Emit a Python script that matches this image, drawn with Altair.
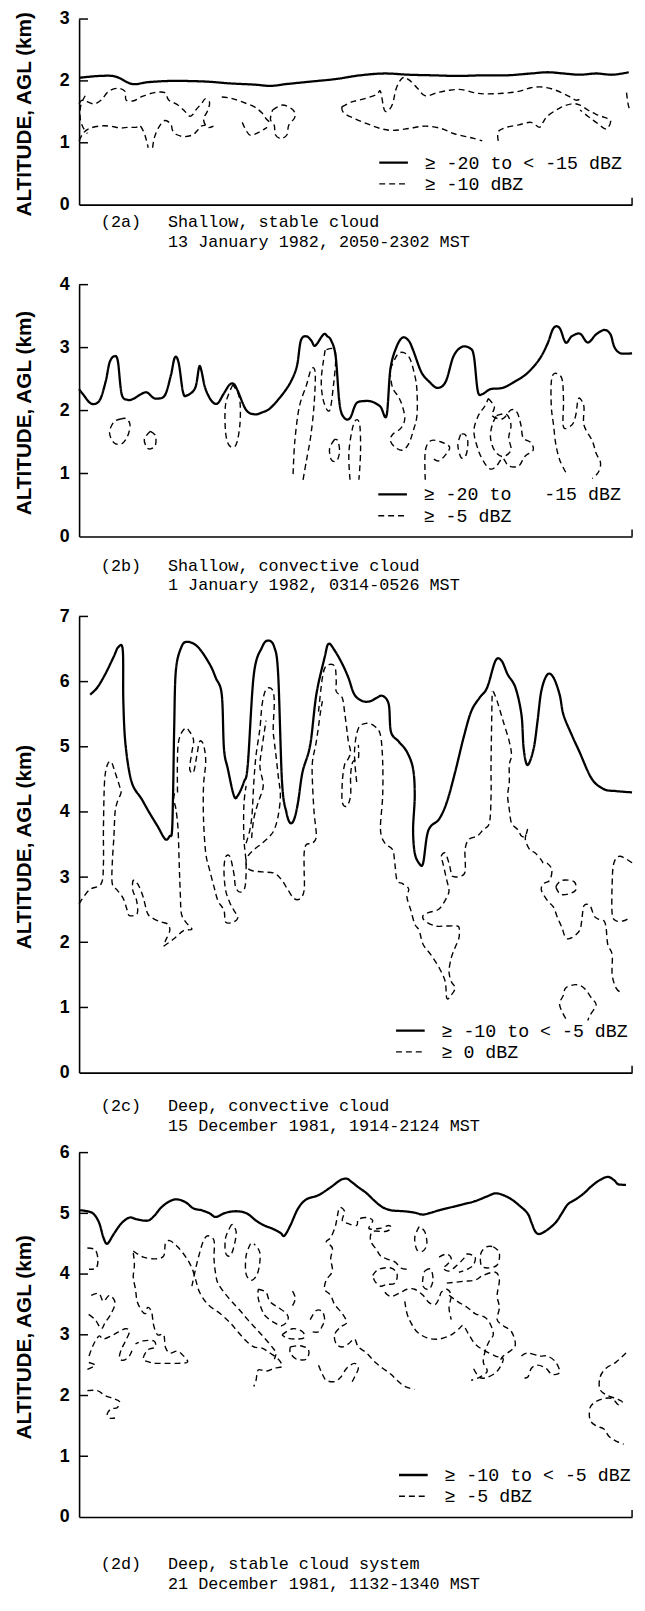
import altair as alt
import pandas as pd

# ---------------- data (x: relative distance 0-100, y: altitude km) ----------------
A_TOP = [(0,2.05),(3.7,2.08),(6.6,2.07),(9.6,1.95),(12.5,1.98),(16.9,2.0),(22.8,1.99),(27.2,1.96),
         (31.7,1.94),(34.6,1.92),(37.6,1.95),(42.0,1.99),(46.4,2.03),(50.8,2.09),(55.2,2.12),(59.6,2.10),
         (64.1,2.09),(68.5,2.08),(72.9,2.09),(77.3,2.09),(81.7,2.12),(84.7,2.14),(87.6,2.12),(90.6,2.10),
         (93.5,2.12),(96.5,2.10),(99.4,2.14)]
A_DASHED = [
    [(1.1,1.76),(0.3,1.6),(0.2,1.4),(0.7,1.25),(1.5,1.15)],
    [(0,1.63),(0.7,1.69),(2.6,1.63),(4.0,1.69),(5.3,1.83),(7.0,1.88),(8.3,1.83),(8.5,1.69),(9.9,1.68),
     (11.4,1.75),(13.6,1.81),(15.5,1.81),(16.2,1.69),(17.7,1.62),(19.1,1.51),(20.0,1.43),(20.6,1.46),
     (21.2,1.54),(22.2,1.64),(22.8,1.71),(23.6,1.65),(23.2,1.51),(22.5,1.38),(23.2,1.25),(24.3,1.27)],
    [(0,1.03),(0.7,1.15),(1.8,1.23),(3.7,1.27),(5.5,1.27),(7.4,1.24),(8.8,1.25),(10.3,1.25),(11.0,1.28),
     (11.8,1.15),(12.2,1.03),(12.5,0.92)],
    [(13.3,0.92),(13.6,1.08),(14.4,1.25),(15.5,1.36),(16.6,1.3),(16.9,1.2),(17.7,1.13),(19.1,1.1),
     (20.6,1.13),(21.4,1.2),(22.1,1.27),(22.8,1.28)],
    [(25.8,1.74),(27.5,1.72),(29.5,1.66),(31.7,1.58),(33.1,1.48),(33.9,1.38),(34.6,1.33)],
    [(29.5,1.33),(30.2,1.2),(31.0,1.12),(32.5,1.17),(34.0,1.25)],
    [(35.0,1.53),(36.8,1.61),(38.7,1.53),(39.0,1.41),(37.9,1.28),(37.6,1.13),(36.5,1.07),(35.5,1.13),
     (35.3,1.28),(34.6,1.38),(35.0,1.53)],
    [(47.5,1.58),(49.3,1.66),(51.5,1.71),(53.8,1.78),(54.5,1.83),(55.2,1.53),(56.0,1.53),(56.7,1.63),
     (57.4,1.89),(58.5,2.05),(59.6,2.02),(61.1,1.89),(62.6,1.76),(64.8,1.81),(67.0,1.85),(69.2,1.86),
     (71.4,1.81),(73.6,1.79),(76.6,1.80),(79.5,1.83),(81.7,1.89),(83.9,1.9),(86.2,1.85),(88.4,1.76),
     (89.8,1.69),(90.6,1.71)],
    [(47.5,1.58),(47.9,1.48),(50.1,1.38),(52.3,1.30),(54.5,1.23),(56.7,1.20),(59.6,1.23),(62.6,1.27),
     (65.5,1.23),(67.7,1.15),(70.0,1.10),(71.4,1.07),(72.9,1.03)],
    [(75.8,1.03),(75.8,1.18),(77.3,1.25),(79.5,1.29),(81.7,1.33),(83.2,1.25),(83.9,1.33),(84.7,1.43),
     (86.9,1.56),(89.1,1.63),(90.6,1.61),(92.0,1.53),(93.5,1.46),(95.0,1.41),(96.1,1.36),(95.7,1.25),
     (95.0,1.23),(93.5,1.33),(92.0,1.43),(90.6,1.53)],
    [(99.0,1.81),(99.4,1.58),(100,1.53)],
]

B_TOP = [(0,2.34),(0.7,2.26),(2.2,2.11),(3.7,2.16),(4.8,2.46),(5.5,2.76),(6.3,2.86),(7.0,2.79),(7.7,2.26),
         (8.8,2.17),(9.9,2.19),(11.0,2.25),(12.2,2.29),(13.3,2.21),(14.0,2.19),(15.5,2.24),(16.6,2.56),
         (17.3,2.84),(18.0,2.76),(18.8,2.29),(19.5,2.24),(21.0,2.36),(21.7,2.69),(22.1,2.64),(22.8,2.36),
         (23.9,2.16),(25.0,2.11),(26.1,2.26),(27.2,2.41),(28.0,2.42),(28.7,2.31),(30.2,2.01),(31.7,1.94),
         (33.1,1.97),(34.6,2.04),(36.8,2.26),(38.3,2.46),(39.4,2.71),(40.1,3.11),(41.1,3.18),(42.0,3.11),
         (42.7,3.03),(44.2,3.21),(44.9,3.18),(45.6,3.11),(46.4,2.86),(47.1,2.11),(47.9,1.89),(49.0,1.88),
         (50.1,2.11),(51.5,2.15),(53.0,2.14),(54.5,2.06),(55.6,1.92),(56.3,2.66),(57.4,3.01),(58.5,3.16),
         (59.6,3.11),(60.4,2.96),(61.9,2.61),(63.3,2.46),(64.8,2.36),(66.3,2.46),(67.7,2.86),(69.2,3.01),
         (70.7,2.99),(71.4,2.86),(72.1,2.31),(72.9,2.26),(74.4,2.34),(76.6,2.36),(78.8,2.46),(81.0,2.59),
         (83.2,2.81),(84.7,3.06),(85.8,3.31),(86.9,3.31),(88.0,3.08),(89.1,3.18),(90.6,3.22),(92.0,3.08),
         (93.5,3.21),(95.0,3.28),(96.1,3.21),(96.8,3.01),(97.9,2.91),(100,2.91)]
B_DASHED = [
    [(7.7,1.87),(6.3,1.82),(5.5,1.65),(6.3,1.49),(7.7,1.47),(8.8,1.6),(9.2,1.78),(8.5,1.87),(7.7,1.87)],
    [(12.9,1.67),(11.8,1.55),(12.2,1.42),(12.9,1.39),(13.8,1.45),(13.8,1.6),(12.9,1.67)],
    [(27.8,2.41),(26.5,2.1),(26.5,1.65),(27.2,1.44),(28.4,1.46),(29.1,1.8),(29.0,2.2),(27.8,2.41)],
    [(38.7,0.99),(39.0,1.5),(39.8,2.05),(41.1,2.4),(42.0,2.66),(42.7,2.6),(42.5,2.1),(41.9,1.6),
     (41.1,1.2),(40.5,0.9)],
    [(44.5,2.96),(43.8,2.5),(44.2,2.15),(45.3,2.0),(46.0,2.4),(46.4,2.8),(46.1,2.98),(44.5,2.96)],
    [(46.2,1.54),(45.3,1.4),(45.6,1.22),(46.6,1.2),(47.1,1.35),(46.8,1.52),(46.2,1.54)],
    [(49.0,0.9),(48.8,1.35),(49.7,1.8),(50.7,1.8),(50.9,1.35),(50.6,0.9)],
    [(56.3,2.66),(57.8,2.91),(59.6,2.86),(60.7,2.56),(61.1,2.31),(61.1,1.92),(60.4,1.67),(59.6,1.47),
     (58.5,1.37),(57.1,1.42),(56.3,1.52),(56.7,1.62),(58.2,1.72),(58.9,1.87),(58.5,2.06),(57.8,2.21),
     (56.7,2.36),(56.3,2.56)],
    [(62.6,0.9),(62.6,1.35),(63.6,1.52),(65.5,1.5),(67.0,1.42),(66.3,1.3),(65.0,1.2),(63.8,1.25)],
    [(69.0,1.62),(68.5,1.45),(69.1,1.25),(70.0,1.3),(70.3,1.5),(69.8,1.62),(69.0,1.62)],
    [(74.0,2.19),(75.1,2.06),(74.7,1.92),(76.6,1.87),(78.1,2.01),(79.2,1.97),(79.9,1.77),(80.3,1.57),
     (81.7,1.49),(82.1,1.37),(80.6,1.27),(79.5,1.12),(77.7,1.12),(76.6,1.24),(75.5,1.12),(74.4,1.07),
     (73.3,1.17),(72.2,1.37),(71.4,1.67),(72.2,1.92),(73.3,2.06),(74.0,2.19)],
    [(75.5,1.92),(77.3,1.94),(78.1,1.77),(77.7,1.57),(78.1,1.37),(76.6,1.27),(75.1,1.37),(74.4,1.57),
     (74.7,1.77),(75.5,1.92)],
    [(88.0,1.02),(86.9,1.22),(86.2,1.47),(85.8,1.77),(85.4,2.06),(85.4,2.46),(86.0,2.59),(87.3,2.51),
     (87.6,2.16),(87.6,1.74),(89.1,1.77),(89.8,1.92),(90.2,2.16),(90.6,2.19),(91.3,2.06),(91.3,1.77),
     (92.8,1.52),(93.5,1.32),(94.3,1.17),(93.9,1.02),(92.8,0.92)],
]

C_TOP = [(2.0,5.80),(3.3,5.91),(4.7,6.11),(6.2,6.37),(7.1,6.53),(7.9,6.48),(8.0,5.70),(8.4,5.03),(9.5,4.46),
         (11.3,4.20),(12.7,3.99),(14.2,3.78),(15.6,3.58),(16.4,3.63),(16.8,3.7),(17.0,4.3),(17.2,5.3),
         (17.5,6.17),(18.5,6.53),(19.6,6.61),(21.5,6.53),(23.6,6.27),(24.7,6.06),(25.8,5.80),(26.2,4.97),
         (26.9,4.66),(28.0,4.25),(28.7,4.25),(29.8,4.46),(30.5,4.72),(31.6,6.11),(33.1,6.53),(34.2,6.63),
         (35.3,6.53),(36.0,6.11),(36.7,4.46),(37.5,3.99),(38.2,3.83),(38.9,3.89),(39.6,4.15),(40.4,4.61),
         (41.8,5.03),(42.9,5.80),(44.4,6.37),(45.1,6.58),(46.2,6.48),(47.6,6.27),(48.7,6.06),(49.8,5.80),
         (51.3,5.70),(52.7,5.70),(53.8,5.75),(54.9,5.78),(56.0,5.65),(56.4,5.23),(57.8,5.08),(59.3,4.92),
         (60.4,4.66),(60.7,4.25),(60.4,3.73),(60.7,3.37),(61.5,3.21),(62.2,3.21),(62.9,3.63),(63.6,3.78),
         (65.1,3.89),(66.5,4.15),(68.0,4.61),(69.5,5.13),(70.9,5.54),(72.4,5.75),(73.8,5.91),(75.3,6.32),
         (76.4,6.32),(77.5,6.11),(78.9,5.91),(80.0,5.49),(80.4,4.97),(81.1,4.72),(82.2,4.97),(82.9,5.39),
         (83.6,5.86),(84.7,6.11),(85.8,6.06),(86.9,5.80),(87.6,5.49),(89.1,5.18),(90.5,4.92),(92.7,4.51),
         (94.9,4.35),(97.1,4.32),(100,4.30)]
C_DASHED = [
    [(0,2.59),(1.8,2.80),(4.0,2.90),(4.4,3.21),(4.4,3.73),(4.6,4.46),(5.1,4.72),(5.8,4.77),(6.5,4.61),
     (7.3,4.40),(7.6,4.30),(6.9,4.15),(6.5,3.99),(6.3,3.63),(6.0,3.21),(6.0,2.90),(6.9,2.80),(8.0,2.67),
     (8.7,2.49),(9.1,2.41),(10.5,2.44),(10.4,2.64),(9.7,2.80),(9.8,2.95),(10.7,2.88),(11.6,2.69),
     (12.4,2.44),(13.5,2.36),(14.9,2.31),(16.0,2.28),(16.4,2.18),(15.6,2.02),(15.3,1.94)],
    [(15.3,1.94),(17.1,2.05),(18.9,2.18),(20.4,2.2),(19.3,2.31),(18.5,2.44),(18.3,2.75),(18.1,3.21),
     (17.9,3.73),(17.5,4.05),(17.1,4.20),(17.5,4.35)],
    [(17.8,4.3),(17.9,5.03),(19.1,5.28),(20.0,5.23),(20.7,5.10),(20.4,4.92),(20.0,4.66),(20.7,4.61),
     (21.3,4.87),(21.8,5.08),(22.5,5.03),(22.9,4.77),(22.5,4.40),(22.5,3.89),(22.9,3.37),(23.6,3.11),
     (24.4,2.85),(25.1,2.64),(26.2,2.49),(26.5,2.31),(27.9,2.31),(28.7,2.38),(28.0,2.49),(27.3,2.6),
     (26.5,2.8),(26.2,3.1),(26.5,3.31),(27.3,3.31),(28.0,3.05),(28.3,2.85),(29.1,2.77),(30.0,2.85),
     (30.2,3.2),(29.8,3.6),(29.8,4.1),(30.2,4.40)],
    [(30.2,3.52),(30.9,3.73),(31.3,3.99),(31.6,4.46),(32.0,4.87),(32.7,5.28),(33.1,5.65),(33.8,5.88),
     (34.9,5.88),(35.3,5.70),(35.1,5.28),(35.3,5.08),(35.6,4.87),(36.0,4.56),(36.4,4.25),(36.0,3.94),
     (35.3,3.73),(34.5,3.63),(33.1,3.52),(31.6,3.42),(30.5,3.32),(30.2,3.21),(30.9,3.11),(33.1,3.08),
     (35.3,3.06),(36.7,2.95),(37.8,2.80),(38.9,2.67),(40.0,2.67),(40.7,2.80),(40.7,3.11),(40.7,3.37),
     (41.1,3.50),(42.2,3.52),(42.9,3.63),(42.5,3.99),(42.2,4.46),(42.2,4.77),(42.9,5.08),(43.6,5.5),
     (44.0,5.7)],
    [(31.2,3.6),(31.6,3.9),(32.4,4.15),(33.3,4.4),(32.7,4.7),(33.1,5.0),(33.8,5.4)],
    [(43.3,5.54),(44.0,6.06),(44.7,6.24),(46.2,6.24),(46.5,6.01),(46.5,5.85),(47.6,5.75),(48.0,5.54),
     (48.4,5.28),(48.7,5.08),(49.1,4.92),(48.7,4.82),(48.0,4.72),(47.6,4.46),(47.6,4.15),(48.4,4.09),
     (49.1,4.25),(49.1,4.56),(49.5,4.77),(50.5,4.82),(50.5,5.03)],
    [(50.2,4.46),(49.8,4.92),(50.5,5.28),(52.0,5.36),(53.5,5.31),(54.5,5.18),(54.9,4.77),(54.9,4.25),
     (54.5,3.73),(55.3,3.52),(56.7,3.42),(57.1,3.21),(57.5,2.95),(58.5,2.90),(59.6,2.82),(59.3,2.69),
     (60.0,2.49),(60.7,2.28),(61.5,2.18),(62.2,1.97),(63.6,1.81),(65.1,1.61),(66.2,1.40),(66.5,1.14),
     (67.3,1.19),(68.0,1.30),(67.3,1.40),(66.9,1.55),(67.3,1.76),(68.0,1.92),(68.7,2.07),(68.7,2.23),
     (68.0,2.25),(66.2,2.25),(64.4,2.25),(62.5,2.33),(62.2,2.41),(63.3,2.46),(65.1,2.51),(66.5,2.69),
     (66.9,2.80),(66.5,2.95),(65.8,3.21),(65.5,3.32),(66.2,3.37),(66.9,3.21),(67.3,3.06),(67.6,3.01),
     (68.7,3.01),(69.8,3.08),(69.8,3.42),(70.5,3.58),(72.0,3.63),(73.1,3.73),(74.2,3.83),(74.5,4.25),
     (74.5,4.77),(74.7,5.85)],
    [(74.9,5.85),(75.6,5.70),(76.7,5.39),(77.8,5.08),(78.2,4.87),(77.8,4.72),(77.8,4.46),(77.5,4.25),
     (77.8,4.04),(78.2,3.83),(79.3,3.73),(80.0,3.63),(80.7,3.63),(81.1,3.73),(80.7,3.58),(81.5,3.42),
     (82.5,3.37),(83.6,3.26),(84.0,3.21),(84.7,3.21),(85.5,3.11),(85.1,2.95),(84.0,2.90),(83.6,2.80),
     (84.7,2.64),(85.8,2.54),(86.5,2.38),(87.3,2.23),(88.0,2.07),(89.1,2.07),(90.5,2.18),(90.9,2.33),
     (91.3,2.56),(92.4,2.56),(93.1,2.41),(93.8,2.36),(94.9,2.33),(95.3,2.23),(95.6,1.97),(96.4,1.81),
     (96.4,1.50),(97.1,1.30),(97.8,1.24)],
    [(86.2,2.85),(87.3,2.95),(89.5,2.93),(89.8,2.80),(88.4,2.74),(87.0,2.74),(86.2,2.85)],
    [(100,3.22),(97.8,3.32),(96.7,3.21),(96.4,2.90),(96.4,2.44),(97.1,2.33),(98.5,2.33),(99.6,2.38)],
    [(88.0,0.83),(86.9,1.04),(87.6,1.19),(88.0,1.30),(89.8,1.35),(91.3,1.30),(92.7,1.14),(93.5,1.04),
     (92.4,0.88),(92.0,0.80)],
]

D_TOP = [(0,5.05),(1.1,5.04),(2.5,5.0),(3.6,4.85),(4.4,4.6),(5.1,4.5),(6.2,4.65),(7.6,4.83),(9.1,4.93),
         (10.5,4.9),(12.4,4.88),(13.5,4.95),(14.9,5.1),(16.4,5.2),(17.8,5.23),(19.3,5.18),(20.7,5.08),
         (22.2,5.05),(23.6,5.0),(24.7,4.94),(26.2,5.0),(27.6,5.03),(29.1,5.03),(30.5,4.99),(32.0,4.88),
         (33.5,4.8),(34.9,4.75),(36.4,4.68),(37.1,4.63),(38.2,4.8),(39.6,5.08),(41.1,5.23),(43.3,5.3),
         (45.5,5.43),(47.3,5.55),(48.4,5.57),(49.1,5.53),(50.5,5.43),(52.0,5.33),(53.5,5.2),(54.9,5.1),
         (56.4,5.05),(57.8,5.04),(59.3,5.03),(60.7,5.01),(62.2,4.98),(63.6,5.01),(65.1,5.05),(67.3,5.1),
         (69.5,5.15),(71.6,5.2),(73.8,5.28),(75.3,5.33),(76.7,5.3),(78.2,5.23),(79.6,5.13),(81.1,5.0),
         (81.8,4.85),(82.5,4.7),(83.3,4.66),(84.7,4.73),(86.2,4.85),(87.3,5.0),(88.4,5.15),(89.8,5.23),
         (91.3,5.33),(92.7,5.45),(94.2,5.55),(95.6,5.6),(96.7,5.55),(97.5,5.48),(98.9,5.47)]
D_DASHED = [
    [(1.5,4.43),(2.9,4.40),(3.4,4.25),(3.1,4.10),(1.8,4.08)],
    [(2.2,3.65),(3.6,3.68),(4.4,3.55),(5.5,3.65),(6.5,3.53),(5.8,3.35),(4.7,3.2),(4.0,3.1),(2.9,3.25),(1.5,3.35)],
    [(1.8,2.65),(2.5,2.82),(3.6,2.98),(4.4,2.93),(6.2,3.0),(8.3,3.1),(9.1,3.05),(8.4,2.9),(7.6,2.75),
     (7.3,2.62),(8.0,2.58),(9.1,2.65),(9.8,2.8)],
    [(1.5,2.43),(2.9,2.5),(1.5,2.55)],
    [(1.5,2.08),(3.3,2.08),(4.7,2.0),(6.2,1.95),(7.3,1.9),(6.9,1.8),(5.8,1.78),(5.1,1.7),(5.5,1.63),(6.5,1.63)],
    [(9.8,4.38),(11.6,4.28),(13.8,4.25),(15.3,4.3),(15.6,4.5),(16.4,4.55),(17.8,4.45),(19.3,4.28),
     (20.4,4.1),(21.1,3.9),(21.8,3.7),(23.3,3.5),(25.5,3.35),(27.3,3.2),(28.7,3.05),(30.2,2.9),(31.6,2.8),
     (33.1,2.78),(34.5,2.7),(36.0,2.6),(36.7,2.48),(35.3,2.45),(33.8,2.4),(32.4,2.42),(32.0,2.25),(31.6,2.15)],
    [(20.4,3.8),(21.1,4.1),(21.8,4.35),(22.5,4.55),(23.3,4.63),(24.4,4.55),(24.4,4.25),(24.7,4.0),
     (25.1,3.85),(26.2,3.7),(27.6,3.55),(29.1,3.4),(30.5,3.25),(32.0,3.1),(33.5,2.95),(34.9,2.8),
     (35.6,2.7),(35.3,2.6)],
    [(9.8,4.35),(10.0,4.15),(9.8,3.95),(10.2,3.75),(10.5,3.55),(11.3,3.4),(12.0,3.35),(12.4,3.45),
     (13.1,3.38),(13.5,3.15),(14.2,3.0),(15.3,3.0),(15.6,2.8),(16.4,2.7),(17.8,2.73),(18.9,2.65),
     (19.6,2.55),(17.8,2.53),(15.6,2.53),(13.8,2.53),(12.7,2.55),(11.6,2.6),(12.4,2.75),(13.8,2.8),
     (13.5,2.9),(11.6,2.9),(10.2,2.85)],
    [(27.6,4.82),(26.5,4.6),(26.5,4.35),(27.3,4.3),(28.0,4.45),(28.4,4.7),(27.6,4.82)],
    [(31.0,4.5),(30.2,4.3),(30.2,4.0),(31.3,3.9),(32.4,4.05),(32.7,4.35),(31.6,4.5)],
    [(32.4,3.75),(33.8,3.7),(34.5,3.55),(36.0,3.45),(37.5,3.35),(37.8,3.25),(36.7,3.15),(35.3,3.2),
     (33.8,3.3),(33.1,3.4),(32.4,3.6),(32.4,3.75)],
    [(38.6,3.72),(39.1,3.6),(38.6,3.48)],
    [(36.7,3.0),(38.6,3.1),(40.4,3.05),(40.7,2.95),(38.9,2.93),(37.5,2.95),(36.7,3.0)],
    [(38.2,2.8),(40.0,2.82),(41.5,2.75),(41.1,2.6),(39.3,2.6),(38.2,2.7),(38.2,2.8)],
    [(41.8,3.25),(42.9,3.4),(44.0,3.38),(44.4,3.25),(44.0,3.15),(43.3,3.05),(42.2,3.05)],
    [(43.3,2.5),(44.0,2.35),(44.7,2.25),(46.2,2.23),(47.3,2.3),(48.4,2.45),(49.8,2.53),(50.5,2.45),
     (49.8,2.3),(49.1,2.18)],
    [(47.3,5.1),(48.0,5.03),(47.6,4.88),(48.7,4.83),(50.2,4.8),(50.5,4.9),(52.0,4.93),(53.1,4.88),
     (52.4,4.75),(54.2,4.75),(56.0,4.8),(56.4,4.75),(55.3,4.7),(53.1,4.7),(52.7,4.55),(53.8,4.4),
     (54.5,4.3),(55.6,4.25),(57.1,4.2),(58.2,4.1),(59.3,4.08)],
    [(46.9,5.05),(46.5,4.85),(46.2,4.75),(45.5,4.6),(44.7,4.53),(45.8,4.43),(45.5,4.25),(45.8,4.05),
     (44.7,3.9),(44.4,3.75),(45.5,3.65),(46.2,3.5),(47.6,3.35),(48.4,3.2),(47.3,3.13),(46.2,3.0),
     (46.5,2.85),(47.6,2.8),(48.7,2.85),(49.8,2.93),(50.5,2.8),(52.0,2.7),(53.5,2.55),(54.9,2.45),
     (56.4,2.35),(57.5,2.25),(58.9,2.15),(60.7,2.1)],
    [(61.5,4.78),(60.7,4.6),(61.1,4.4),(62.2,4.38),(62.9,4.5),(62.5,4.7),(61.5,4.78)],
    [(53.1,3.98),(54.2,4.08),(56.4,4.1),(57.5,4.0),(57.1,3.85),(55.6,3.83),(54.5,3.8),(53.5,3.88),(53.1,3.98)],
    [(55.3,3.7),(56.4,3.63),(58.2,3.7),(59.3,3.75),(60.7,3.75),(62.2,3.65),(63.3,3.53),(64.4,3.5),
     (65.1,3.6),(65.5,3.7),(66.5,3.75),(67.3,3.65),(66.9,3.45),(67.3,3.25)],
    [(58.9,3.55),(59.3,3.35),(60.0,3.2),(61.1,3.05),(62.9,2.95),(65.1,2.93),(67.3,3.0),(68.7,3.1),
     (69.5,3.15),(70.5,3.0),(71.6,2.85),(73.1,2.75),(75.3,2.65),(76.7,2.6),(75.6,2.4),(73.8,2.3),
     (72.4,2.3),(71.3,2.45)],
    [(62.5,4.05),(63.6,4.08),(64.0,3.9),(63.3,3.75),(62.2,3.8),(62.2,3.95),(62.5,4.05)],
    [(65.1,4.28),(66.5,4.33),(67.3,4.25),(66.5,4.15),(65.8,4.1),(66.9,4.05),(68.4,4.15),(69.5,4.25),
     (70.2,4.33),(71.6,4.28),(71.3,4.15),(70.2,4.08),(68.7,4.03)],
    [(74.9,4.45),(76.0,4.35),(75.6,4.15),(73.8,4.1),(72.7,4.15),(72.7,4.35),(73.8,4.45),(74.9,4.45)],
    [(66.5,3.85),(69.5,3.88),(71.6,3.9),(73.1,3.98),(75.3,4.03),(76.0,3.9),(75.6,3.65),(76.0,3.45),
     (75.6,3.25),(76.7,3.15),(78.2,3.05),(78.9,2.85),(78.2,2.75),(76.7,2.65),(76.0,2.55)],
    [(66.9,3.65),(68.4,3.55),(70.2,3.45),(71.6,3.35),(73.5,3.28),(74.5,3.15),(74.9,3.0),(74.2,2.9),
     (73.5,2.75),(73.1,2.55),(73.8,2.4),(72.4,2.3),(70.9,2.25)],
    [(80.0,2.65),(81.1,2.7),(83.3,2.65),(84.7,2.65),(86.2,2.55),(86.9,2.38),(85.5,2.35),(84.4,2.45),
     (82.9,2.5),(81.8,2.45),(81.1,2.3),(80.0,2.3)],
    [(98.9,2.7),(97.1,2.55),(95.3,2.45),(94.2,2.3),(94.2,2.1),(95.6,2.0),(97.1,1.95),(98.2,1.9),
     (97.5,1.85),(96.4,1.95),(94.9,1.95),(93.5,1.9),(92.4,1.8),(92.4,1.6),(93.5,1.5),(94.9,1.45),
     (95.8,1.33),(97.1,1.25),(98.5,1.2)],
]

LEG_A = ["\u2265 -20 to < -15 dBZ", "\u2265 -10 dBZ"]
LEG_B = ["\u2265 -20 to\u00a0\u00a0\u00a0-15 dBZ", "\u2265 -5 dBZ"]
LEG_C = ["\u2265 -10 to < -5 dBZ", "\u2265 0 dBZ"]
LEG_D = ["\u2265 -10 to < -5 dBZ", "\u2265 -5 dBZ"]

CAP_A = ["(2a)", "Shallow, stable cloud", "13 January 1982, 2050-2302 MST"]
CAP_B = ["(2b)", "Shallow, convective cloud", "1 January 1982, 0314-0526 MST"]
CAP_C = ["(2c)", "Deep, convective cloud", "15 December 1981, 1914-2124 MST"]
CAP_D = ["(2d)", "Deep, stable cloud system", "21 December 1981, 1132-1340 MST"]

YMAX = [3, 4, 7, 6]

# ---------------- chart construction ----------------
W = 560
MONO = "Liberation Mono"
SANS = "Liberation Sans"


def make_df(top, dashed, labels):
    rows = []
    for i, (x, y) in enumerate(top):
        rows.append({"x": x, "y": y, "seg": "top", "kind": labels[0], "o": i})
    for j, c in enumerate(dashed):
        for i, (x, y) in enumerate(c):
            rows.append({"x": x, "y": y, "seg": f"c{j}", "kind": labels[1], "o": i})
    return pd.DataFrame(rows)


def panel(top, dashed, labels, caption, ymax, h, leg_x, cap_dy):
    df = make_df(top, dashed, labels)
    x_enc = alt.X("x:Q", scale=alt.Scale(domain=[0, 100], nice=False, zero=False),
                  axis=alt.Axis(title=None, labels=False, ticks=False, grid=False,
                                domainColor="black", domainWidth=1.6))
    y_enc = alt.Y("y:Q", scale=alt.Scale(domain=[0, ymax], nice=False),
                  axis=alt.Axis(title="ALTITUDE, AGL (km)", values=list(range(ymax + 1)), format="d",
                                ticks=False, grid=False, domainColor="black", domainWidth=1.6,
                                labelFont=SANS, labelFontWeight="bold", labelFontSize=18,
                                labelColor="black", labelPadding=10,
                                titleFont=SANS, titleFontWeight="bold", titleFontSize=21,
                                titleColor="black", titleX=-49, titleY=h / 2 + 2, titleAngle=-90,
                                titleAlign="center", titleBaseline="alphabetic"))
    leg = alt.Legend(title=None, orient="none", legendX=leg_x, legendY=h - 54,
                     symbolType="M-1.45,0H1.45", symbolSize=400, symbolStrokeColor="black",
                     symbolFillColor="transparent",
                     labelFont=MONO, labelFontSize=18.5, labelColor="black", labelOffset=20,
                     labelLimit=0, rowPadding=1, padding=0)
    line = alt.Chart(df).mark_line(interpolate="cardinal", color="black").encode(
        x=x_enc, y=y_enc,
        detail="seg:N",
        order="o:Q",
        strokeDash=alt.StrokeDash("kind:N", scale=alt.Scale(domain=labels, range=[[1, 0], [6, 4]]),
                                  legend=leg),
        strokeWidth=alt.StrokeWidth("kind:N", scale=alt.Scale(domain=labels, range=[2.3, 1.4]),
                                    legend=leg),
    )
    ticks = alt.Chart(pd.DataFrame({"y": list(range(1, ymax + 1))})).mark_rule(
        color="black", strokeWidth=1.5).encode(y=y_enc, x=alt.value(0), x2=alt.value(9))
    endtick = alt.Chart(pd.DataFrame({"x": [100]})).mark_rule(
        color="black", strokeWidth=1.5).encode(x=x_enc, y=alt.value(h), y2=alt.value(h - 7))
    texts = []
    for txt, xx, dy in [(caption[0], 22, cap_dy[0]), (caption[1], 90, cap_dy[0]),
                        (caption[2], 90, cap_dy[1])]:
        texts.append(alt.Chart(pd.DataFrame({"t": [txt]})).mark_text(
            font=MONO, fontSize=17, color="black", align="left", baseline="middle").encode(
            text="t:N", x=alt.value(xx), y=alt.value(h + dy)))
    return alt.layer(line, ticks, endtick, *texts).properties(width=W, height=h)


pa = panel(A_TOP, A_DASHED, LEG_A, CAP_A, YMAX[0], 188, 307, (18, 38))
pb = panel(B_TOP, B_DASHED, LEG_B, CAP_B, YMAX[1], 255, 306, (30, 49))
pc = panel(C_TOP, C_DASHED, LEG_C, CAP_C, YMAX[2], 462, 324, (34, 54))
pd_ = panel(D_TOP, D_DASHED, LEG_D, CAP_D, YMAX[3], 369, 327, (48, 68))

chart = alt.vconcat(pa, pb, pc, pd_, spacing=81, bounds="flush").resolve_scale(
    x="independent", y="independent", strokeDash="independent", strokeWidth="independent"
).resolve_legend(strokeDash="independent", strokeWidth="independent").properties(
    padding={"left": 5, "top": -8, "right": 0, "bottom": 5}, background="white"
).configure_view(stroke=None)

chart.save("out.html", embed_options={"renderer": "svg", "actions": False})
